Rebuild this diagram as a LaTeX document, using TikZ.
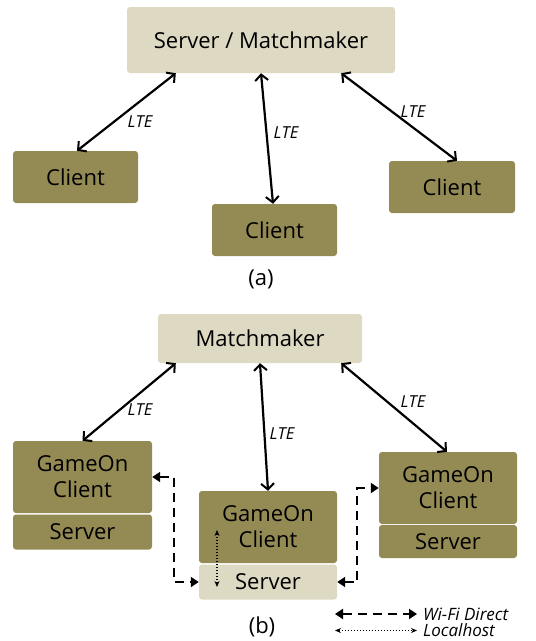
\documentclass[tikz,border=0pt]{standalone}
\usepackage{fontspec}
\setmainfont{Open Sans}
\usetikzlibrary{arrows.meta}
\definecolor{olive}{HTML}{948A54}
\definecolor{beige}{HTML}{DDD9C3}
\begin{document}
\begin{tikzpicture}[x=1pt,y=-1pt,
  box/.style={rounded corners=3pt, inner sep=0pt, align=center, text=black,
    font=\fontsize{22}{26}\selectfont},
  light/.style={box, fill=beige},
  dark/.style={box, fill=olive},
  lte/.style={line width=2.2pt, {Straight Barb[length=6pt,width=13pt,line width=2pt]}-{Straight Barb[length=6pt,width=13pt,line width=2pt]}},
  wifi/.style={line width=2.2pt, dash pattern=on 9pt off 6pt, {Triangle[length=8pt,width=10pt]}-{Triangle[length=8pt,width=10pt]}},
  local/.style={line width=1.8pt, dash pattern=on 1.5pt off 1.5pt, {Stealth[length=6pt,width=5pt]}-{Stealth[length=6pt,width=5pt]}},
  lbl/.style={font=\fontsize{16.5}{18}\selectfont\itshape, inner sep=0pt},
  leg/.style={font=\fontsize{17}{18}\selectfont\itshape, inner sep=0pt, anchor=west},
  captxt/.style={font=\fontsize{22}{26}\selectfont, inner sep=0pt}]
\useasboundingbox (0,0) rectangle (536,641);
% ---------------- (a)
\node[light, minimum width=268pt, minimum height=66pt] (sm) at (261,40) {Server / Matchmaker};
\node[dark, minimum width=125pt, minimum height=52pt] (ca1) at (75.5,177) {Client};
\node[dark, minimum width=125pt, minimum height=52pt] (ca2) at (274.5,230) {Client};
\node[dark, minimum width=126pt, minimum height=52pt] (ca3) at (452,187) {Client};
\draw[lte] ([xshift=49pt]sm.south west) -- ([xshift=1.5pt]ca1.north);
\draw[lte] (sm.south) -- ([xshift=-1.5pt]ca2.north);
\draw[lte] ([xshift=-54pt]sm.south east) -- ([xshift=5pt]ca3.north);
\node[lbl] (l1) at (140,122) {LTE};
\node[lbl] (l2) at (286,133) {LTE};
\node[lbl] (l3) at (413,112) {LTE};
\node[captxt] (a) at (261,279) {(a)};
% ---------------- (b)
\node[light, minimum width=204pt, minimum height=49pt] (mm) at (260,338.5) {Matchmaker};
\node[dark, minimum width=139pt, minimum height=72pt] (glc) at (82.5,477) {GameOn\\Client};
\node[dark, minimum width=139pt, minimum height=35pt] (gls) at (82.5,532) {Server};
\node[dark, minimum width=138pt, minimum height=72pt] (gmc) at (268,527) {GameOn\\Client};
\node[light, minimum width=138pt, minimum height=35pt] (gms) at (268,582) {Server};
\node[dark, minimum width=138pt, minimum height=72pt] (grc) at (448,488) {GameOn\\Client};
\node[dark, minimum width=138pt, minimum height=33pt] (grs) at (448,541.5) {Server};
\draw[lte] ([xshift=18pt]mm.south west) -- (glc.north);
\draw[lte] (mm.south) -- (gmc.north);
\draw[lte] ([xshift=-21pt]mm.south east) -- ([xshift=-1pt]grc.north);
\node[lbl] (l4) at (140,410) {LTE};
\node[lbl] (l5) at (282,434) {LTE};
\node[lbl] (l6) at (413,402) {LTE};
\draw[wifi] (glc.east) -- ++(22pt,0) |- (gms.west);
\draw[wifi] (gms.east) -- ++(20pt,0) |- (grc.west);
\coordinate (lh1) at (217,530);
\coordinate (lh2) at (217,587);
\draw[local] (lh1) -- (lh2);
\node[captxt] (b) at (262,627) {(b)};
% legend
\node[leg] (wfd) at (423,614) {Wi-Fi Direct};
\node[leg] (lhl) at (423,630.5) {Localhost};
\coordinate (lg1) at (335,614);
\coordinate (lg2) at (335,630.5);
\draw[wifi] (lg1) -- ([xshift=-6pt]wfd.west);
\draw[local] (lg2) -- ([xshift=-6pt]lhl.west);
\end{tikzpicture}
\end{document}
